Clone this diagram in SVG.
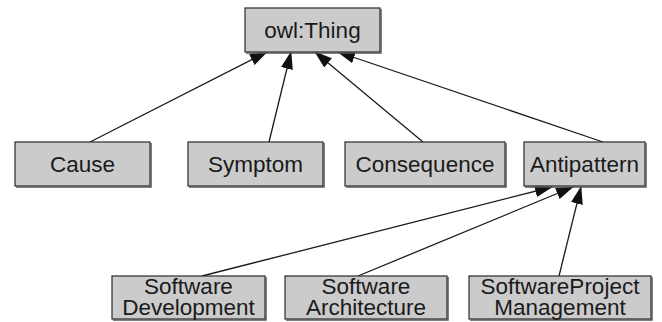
<svg xmlns="http://www.w3.org/2000/svg" width="662" height="322" viewBox="0 0 662 322">
<defs>
<style>
.box{fill:#cbcbcb;stroke:#2a2a2a;stroke-width:1.2}
.sh{fill:none;stroke:#555;stroke-width:1.5}
.t{font-family:"Liberation Sans",Arial,sans-serif;font-size:22.5px;fill:#1a1a1a;text-anchor:middle}
.e{stroke:#1a1a1a;stroke-width:1.3;fill:none;marker-end:url(#ah)}
</style>
<marker id="ah" markerWidth="18" markerHeight="12" refX="17" refY="6" orient="auto" markerUnits="userSpaceOnUse">
<path d="M0,0 L18,6 L0,12 Z" fill="#111"/>
</marker>
</defs>
<rect width="662" height="322" fill="#fff"/>
<g id="connectors">
<line class="e" x1="90" y1="142" x2="267" y2="52"/>
<line class="e" x1="269" y1="142" x2="291" y2="52"/>
<line class="e" x1="423" y1="142" x2="315" y2="52"/>
<line class="e" x1="603" y1="142" x2="338" y2="52"/>
<line class="e" x1="202" y1="276" x2="552" y2="187"/>
<line class="e" x1="358" y1="276" x2="573" y2="187"/>
<line class="e" x1="559" y1="276" x2="581" y2="187"/>
</g>
<g id="owlThing">
<rect class="box" x="245" y="8" width="135" height="44"/>
<path class="sh" d="M246,53 H381 V9"/>
<text class="t" x="312.5" y="38">owl:Thing</text>
</g>
<g id="cause">
<rect class="box" x="15" y="142" width="135" height="44"/>
<path class="sh" d="M16,187 H151 V143"/>
<text class="t" x="82.5" y="172">Cause</text>
</g>
<g id="symptom">
<rect class="box" x="188" y="142" width="135" height="44"/>
<path class="sh" d="M189,187 H324 V143"/>
<text class="t" x="255.5" y="172">Symptom</text>
</g>
<g id="consequence">
<rect class="box" x="345" y="142" width="160" height="44"/>
<path class="sh" d="M346,187 H506 V143"/>
<text class="t" x="425" y="172">Consequence</text>
</g>
<g id="antipattern">
<rect class="box" x="524" y="142" width="121" height="44"/>
<path class="sh" d="M525,187 H646 V143"/>
<text class="t" x="584.5" y="172">Antipattern</text>
</g>
<g id="softwareDevelopment">
<rect class="box" x="112" y="276" width="153" height="43"/>
<path class="sh" d="M113,320 H266 V277"/>
<text class="t" x="188.5" y="294">Software</text>
<text class="t" x="188.5" y="315">Development</text>
</g>
<g id="softwareArchitecture">
<rect class="box" x="285" y="276" width="162" height="43"/>
<path class="sh" d="M286,320 H448 V277"/>
<text class="t" x="366" y="294">Software</text>
<text class="t" x="366" y="315">Architecture</text>
</g>
<g id="softwareProjectManagement">
<rect class="box" x="469" y="276" width="182" height="43"/>
<path class="sh" d="M470,320 H652 V277"/>
<text class="t" x="560" y="294">SoftwareProject</text>
<text class="t" x="560" y="315">Management</text>
</g>
</svg>
